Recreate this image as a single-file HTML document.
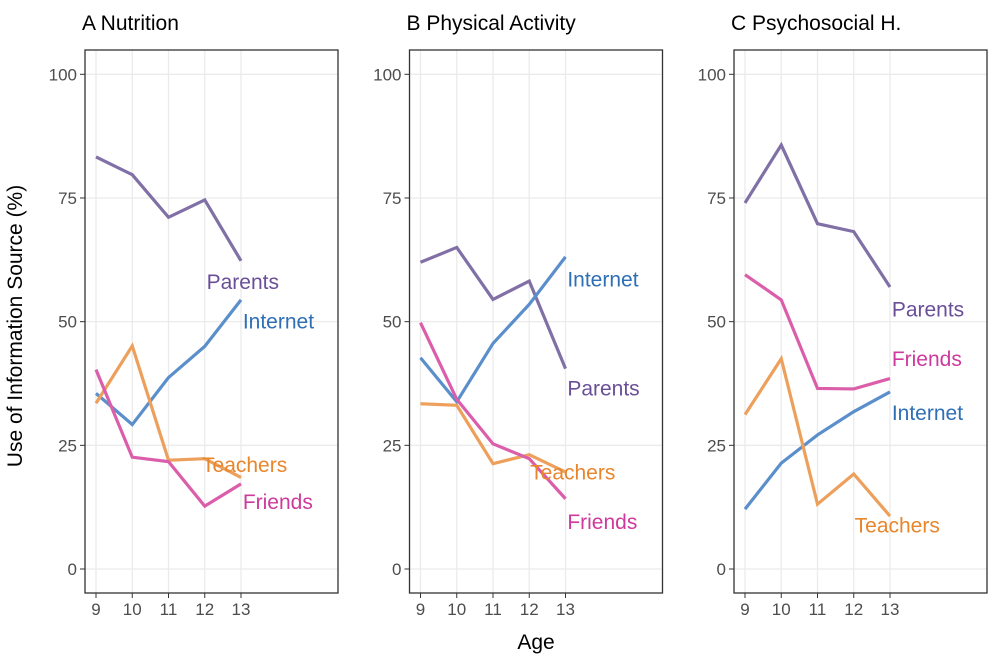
<!DOCTYPE html>
<html><head><meta charset="utf-8"><style>
body{margin:0;background:#fff;}
svg text{font-family:"Liberation Sans",Arial,sans-serif;}
</style></head><body>
<svg id="chart" width="1000" height="667" xmlns="http://www.w3.org/2000/svg">
<text x="0" y="0" font-size="21" fill="#000" text-anchor="middle" transform="translate(22,326) rotate(-90)">Use of Information Source (%)</text>
<text x="536" y="649" font-size="21" fill="#000" text-anchor="middle">Age</text>
</svg>
<script>
const ages = [9, 10, 11, 12, 13];
const yTicks = [0, 25, 50, 75, 100];
const panelTitles = ["A Nutrition", "B Physical Activity", "C Psychosocial H."];
const seriesNames = ["Parents", "Internet", "Teachers", "Friends"];
const parentsA = [83.3, 79.7, 71.1, 74.6, 62.3];
const internetA = [35.5, 29.2, 38.7, 45.0, 54.4];
const teachersA = [33.5, 45.1, 22.0, 22.3, 18.5];
const friendsA = [40.3, 22.6, 21.7, 12.7, 17.2];
const parentsB = [62.0, 65.0, 54.5, 58.2, 40.5];
const internetB = [42.7, 33.8, 45.6, 53.5, 63.1];
const teachersB = [33.4, 33.1, 21.3, 23.1, 19.6];
const friendsB = [49.8, 34.3, 25.3, 22.3, 14.2];
const parentsC = [74.0, 85.7, 69.8, 68.2, 57.0];
const internetC = [12.1, 21.4, 27.1, 31.8, 35.8];
const teachersC = [31.2, 42.5, 13.1, 19.2, 10.7];
const friendsC = [59.5, 54.4, 36.5, 36.4, 38.5];
const labelYA = [58.0, 50.0, 21.0, 13.5];
const labelYB = [36.5, 58.5, 19.5, 9.5];
const labelYC = [52.5, 31.5, 8.8, 42.5];
const labelXA = [13.05, 13.05, 13.1, 13.05];
const labelXB = [13.05, 13.05, 13.2, 13.05];
const labelXC = [13.05, 13.05, 13.2, 13.05];
const labelAnchorA = ["middle", "start", "middle", "start"];
const labelAnchorB = ["start", "start", "middle", "start"];
const labelAnchorC = ["start", "start", "middle", "start"];

const data = [
  [parentsA, internetA, teachersA, friendsA],
  [parentsB, internetB, teachersB, friendsB],
  [parentsC, internetC, teachersC, friendsC]];
const labelYs = [labelYA, labelYB, labelYC];
const labelXs = [labelXA, labelXB, labelXC];
const labelAnchors = [labelAnchorA, labelAnchorB, labelAnchorC];
const lineColors = ["#8170a6", "#5b8fcb", "#eda05c", "#db5eab"];
const textColors = ["#6a4f98", "#2f6fb6", "#e8862c", "#cd3a9c"];
const panelLeft = [85, 409.5, 734];
const svg = document.getElementById('chart');
const NS = "http://www.w3.org/2000/svg";
function mk(tag, attrs, parent) {
  const e = document.createElementNS(NS, tag);
  for (const k in attrs) e.setAttribute(k, attrs[k]);
  (parent || svg).appendChild(e);
  return e;
}
const plotTop = 50, plotBottom = 593, yZero = 569, yHundred = 74.3;
const yScale = v => yZero + (yHundred - yZero) * v / 100;
panelLeft.forEach((L, p) => {
  const xScale = a => L + 11 + (a - 9) * 36.25;
  const g = mk('g', {});
  
  
  const t = mk('text', {x: L - 3, y: 30, 'font-size': 21, fill: '#000'}, g);
  t.textContent = panelTitles[p];
  
  
  yTicks.forEach(v => {
    const gl = mk('line', {x1: L, x2: L + 253, y1: yScale(v), y2: yScale(v), stroke: '#ebebeb', 'stroke-width': 1.3}, g);
    
    
    mk('line', {x1: L - 5, x2: L, y1: yScale(v), y2: yScale(v), stroke: '#333', 'stroke-width': 1}, g);
    const tl = mk('text', {x: L - 8, y: yScale(v) + 6, 'font-size': 17, fill: '#4d4d4d', 'text-anchor': 'end'}, g);
    tl.textContent = v;
    
    
  });
  ages.forEach(a => {
    const gl = mk('line', {x1: xScale(a), x2: xScale(a), y1: plotTop, y2: plotBottom, stroke: '#ebebeb', 'stroke-width': 1.3}, g);
    
    
    mk('line', {x1: xScale(a), x2: xScale(a), y1: plotBottom, y2: plotBottom + 5, stroke: '#333', 'stroke-width': 1}, g);
    const tl = mk('text', {x: xScale(a), y: plotBottom + 22, 'font-size': 17, fill: '#4d4d4d', 'text-anchor': 'middle'}, g);
    tl.textContent = a;
    
    
  });
  data[p].forEach((vals, s) => {
    const pts = vals.map((v, i) => xScale(ages[i]) + ',' + yScale(v)).join(' ');
    const pl = mk('polyline', {points: pts, fill: 'none', stroke: lineColors[s], 'stroke-width': 3.2}, g);
    
    
  });
  data[p].forEach((vals, s) => {
    const lb = mk('text', {x: xScale(labelXs[p][s]), y: yScale(labelYs[p][s]) + 7, 'font-size': 21, fill: textColors[s], 'text-anchor': labelAnchors[p][s]}, g);
    lb.textContent = seriesNames[s];
    
    
  });
  const fr = mk('rect', {x: L, y: plotTop, width: 253, height: plotBottom - plotTop, fill: 'none', stroke: '#333', 'stroke-width': 1.3}, g);
  
  
});
</script>
</body></html>
